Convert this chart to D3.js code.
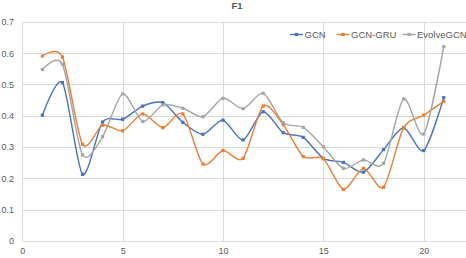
<!DOCTYPE html>
<html>
<head>
<meta charset="utf-8">
<script src="https://cdn.jsdelivr.net/npm/d3@7"></script>
<style>
  body { margin: 0; background: #fff; }
  svg text { font-family: "Liberation Sans", Arial, sans-serif; fill: #595959; }
</style>
</head>
<body>
<svg id="chart" width="466" height="258"></svg>
<script>
// x positions (epochs / steps)
var steps = d3.range(1, 22);

// series values
var gcn = [0.402, 0.506, 0.213, 0.380, 0.389, 0.431, 0.442, 0.379, 0.341, 0.386,
           0.323, 0.413, 0.346, 0.331, 0.264, 0.251, 0.220, 0.292, 0.362, 0.289, 0.458];
var gcnGru = [0.591, 0.588, 0.309, 0.370, 0.352, 0.406, 0.362, 0.406, 0.246, 0.289,
              0.264, 0.431, 0.372, 0.270, 0.263, 0.165, 0.232, 0.172, 0.362, 0.402, 0.446];
var evolveGcn = [0.548, 0.565, 0.275, 0.333, 0.470, 0.382, 0.435, 0.424, 0.397, 0.456,
                 0.423, 0.472, 0.378, 0.363, 0.301, 0.232, 0.259, 0.248, 0.454, 0.342, 0.621];

var seriesNames = ['GCN', 'GCN-GRU', 'EvolveGCN'];
var seriesColors = ['#4472C4', '#ED7D31', '#A5A5A5'];

var yTicks = [0, 0.1, 0.2, 0.3, 0.4, 0.5, 0.6, 0.7];
var xTicks = [0, 5, 10, 15, 20];

var svg = d3.select('#chart');

var x = d3.scaleLinear().domain([0, 25]).range([22.3, 22.3 + 25 * 20.07]);
var y = d3.scaleLinear().domain([0, 0.7]).range([241, 21.9]);

// grid
svg.append('g').selectAll('line.h')
  .data(yTicks).enter().append('line')
  .attr('x1', x(0)).attr('x2', 466)
  .attr('y1', function(d) { return Math.round(y(d)) + 0.5; })
  .attr('y2', function(d) { return Math.round(y(d)) + 0.5; })
  .attr('stroke', '#D9D9D9').attr('stroke-width', 1);

svg.append('g').selectAll('line.v')
  .data(xTicks).enter().append('line')
  .attr('x1', function(d) { return Math.round(x(d)) + 0.5; })
  .attr('x2', function(d) { return Math.round(x(d)) + 0.5; })
  .attr('y1', y(0.7)).attr('y2', y(0))
  .attr('stroke', '#D9D9D9').attr('stroke-width', 1);

// axes labels
var yAxis = d3.axisLeft(y).tickValues(yTicks).tickSize(0).tickPadding(0)
  .tickFormat(function(d) { return d === 0 ? '0' : d3.format('.1f')(d); });
svg.append('g').attr('transform', 'translate(14,0)').call(yAxis)
  .call(function(g) { g.select('.domain').remove(); })
  .selectAll('text').style('font-size', '9px').attr('fill', '#595959');

var xAxis = d3.axisBottom(x).tickValues(xTicks).tickSize(0).tickPadding(0);
svg.append('g').attr('transform', 'translate(0,248)').call(xAxis)
  .call(function(g) { g.select('.domain').remove(); })
  .selectAll('text').style('font-size', '9px').attr('fill', '#595959');

// title
svg.append('text')
  .attr('x', 237).attr('y', 8.5)
  .attr('text-anchor', 'middle')
  .style('font-size', '9.5px').style('font-weight', 'bold')
  .text('F1');

// lines (Excel-like smoothing)
var allSeries = [gcn, gcnGru, evolveGcn];
var line = d3.line()
  .x(function(d, i) { return x(steps[i]); })
  .y(function(d) { return y(d); })
  .curve(d3.curveCardinal.tension(0.2));

allSeries.forEach(function(vals, k) {
  var g = svg.append('g');
  g.append('path')
    .datum(vals)
    .attr('d', line)
    .attr('fill', 'none')
    .attr('stroke', seriesColors[k])
    .attr('stroke-width', 1.4);
  g.selectAll('rect')
    .data(vals).enter().append('rect')
    .attr('x', function(d, i) { return x(steps[i]) - 1.6; })
    .attr('y', function(d) { return y(d) - 1.6; })
    .attr('width', 3.2).attr('height', 3.2)
    .attr('fill', seriesColors[k]);
});

// legend
var legendX = [290, 336.5, 402.5];
var legend = svg.append('g');
seriesNames.forEach(function(name, k) {
  var lx = legendX[k];
  legend.append('line')
    .attr('x1', lx).attr('x2', lx + 13)
    .attr('y1', 34.5).attr('y2', 34.5)
    .attr('stroke', seriesColors[k]).attr('stroke-width', 1.4);
  legend.append('rect')
    .attr('x', lx + 4.9).attr('y', 32.9).attr('width', 3.2).attr('height', 3.2)
    .attr('fill', seriesColors[k]);
  legend.append('text')
    .attr('x', lx + 14.5).attr('y', 38)
    .style('font-size', '9.5px')
    .text(name);
});
</script>
</body>
</html>
